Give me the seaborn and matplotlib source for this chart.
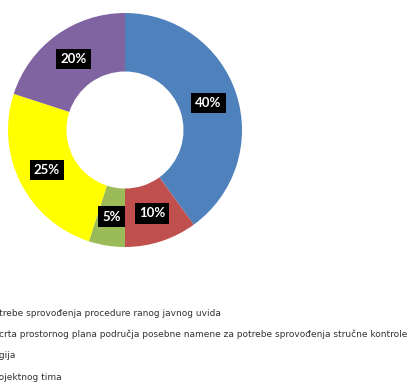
import matplotlib
matplotlib.use("Agg")
import matplotlib.pyplot as plt
import seaborn as sns

sns.set_style("white")

# Share of each activity
shares = [40, 10, 5, 25, 20]
slice_colors = ["#4F81BD", "#C0504D", "#9BBB59", "#FFFF00", "#8064A2"]
legend_labels = [
    "Izrada nacrta plana za potrebe sprovođenja procedure ranog javnog uvida",
    "Izrada nacrta prostornog plana područja posebne namene za potrebe sprovođenja stručne kontrole",
    "Metodologija",
    "Formiranje projektnog tima",
]
# visible part of each legend line begins at the left edge of the figure
legend_visible = [
    "trebe sprovođenja procedure ranog javnog uvida",
    "crta prostornog plana područja posebne namene za potrebe sprovođenja stručne kontrole",
    "gija",
    "ojektnog tima",
]

W, H = 409, 383
fig = plt.figure(figsize=(W / 100, H / 100), dpi=100)
fig.patch.set_facecolor("white")

cx, cy, r = 125, 130, 117
ax = fig.add_axes([(cx - r) / W, (H - cy - r) / H, 2 * r / W, 2 * r / H])

wedges, texts, autotexts = ax.pie(
    shares,
    colors=slice_colors,
    startangle=90,
    counterclock=False,
    autopct=lambda p: f"{p:.0f}%",
    pctdistance=0.75,
    wedgeprops=dict(width=0.5, linewidth=0),
    textprops=dict(color="white", fontsize=9.5, fontweight="bold", family=["Lato", "DejaVu Sans"]),
)
for t in autotexts:
    t.set_bbox(dict(facecolor="black", edgecolor="none", boxstyle="square,pad=0.32"))
ax.set_xlim(-1, 1)
ax.set_ylim(-1, 1)
ax.set_aspect("equal")
ax.axis("off")

# Legend lines, partly running off the left edge
fig.canvas.draw()
renderer = fig.canvas.get_renderer()
line_y = [313, 334, 356, 377]
start_x = [-1, -1, -1, -1]
fs = 6.52
for full, vis, y, x0 in zip(legend_labels, legend_visible, line_y, start_x):
    prefix = full[: len(full) - len(vis)]
    tmp = fig.text(0, 0, prefix, fontsize=fs, family="DejaVu Sans")
    pw = tmp.get_window_extent(renderer).width
    tmp.remove()
    fig.text((x0 - pw) / W, 1 - y / H, full, fontsize=fs, family="DejaVu Sans",
             color="#333333", va="center", ha="left")

fig.savefig("out.png", dpi=100)
